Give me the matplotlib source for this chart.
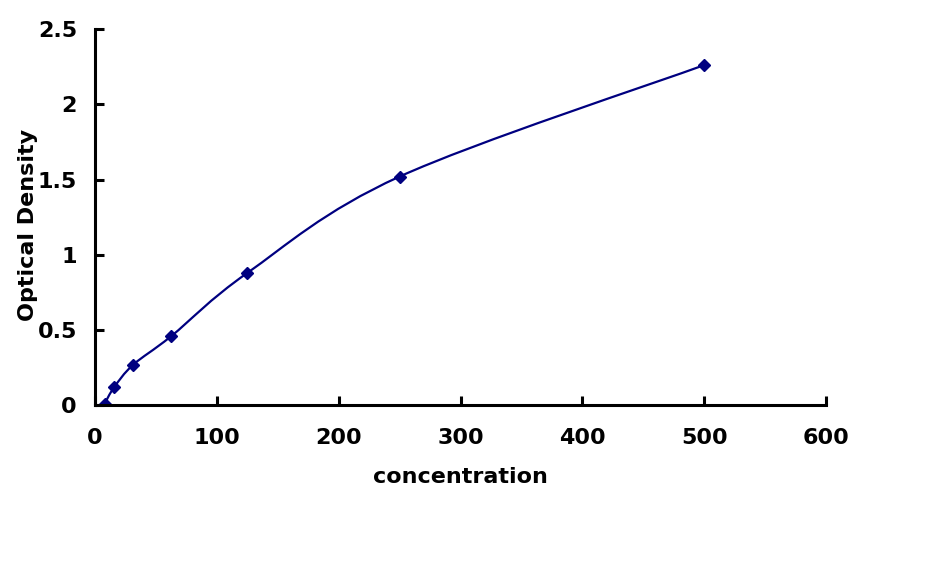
import numpy as np
import matplotlib
matplotlib.use("Agg")
import matplotlib.pyplot as plt
from matplotlib.path import Path
from matplotlib.patches import PathPatch

concentration = [7.8, 15.6, 31.25, 62.5, 125, 250, 500]
optical_density = [0.01, 0.12, 0.27, 0.46, 0.88, 1.52, 2.26]
x_ticks = [0, 100, 200, 300, 400, 500, 600]
y_ticks = [0, 0.5, 1, 1.5, 2, 2.5]
y_tick_labels = ["0", "0.5", "1", "1.5", "2", "2.5"]

plt.rcParams["font.family"] = ["DejaVu Sans"]
plt.rcParams["font.weight"] = "bold"

navy = "#000080"


def smooth_path(xs, ys):
    # Excel-like smoothed line: Catmull-Rom segments as cubic Beziers
    pts = np.column_stack([xs, ys]).astype(float)
    padded = np.vstack([pts[0], pts, pts[-1]])
    verts = [pts[0]]
    codes = [Path.MOVETO]
    for i in range(1, len(padded) - 2):
        p0, p1, p2, p3 = padded[i - 1], padded[i], padded[i + 1], padded[i + 2]
        c1 = p1 + (p2 - p0) / 6.0
        c2 = p2 - (p3 - p1) / 6.0
        verts += [c1, c2, p2]
        codes += [Path.CURVE4] * 3
    return Path(verts, codes)


fig = plt.figure(figsize=(9.38, 5.66), dpi=100)
ax = fig.add_axes([0.1013, 0.2836, 0.7793, 0.6652])

ax.add_patch(PathPatch(smooth_path(concentration, optical_density),
                       facecolor="none", edgecolor=navy, linewidth=1.6))
ax.plot(concentration, optical_density, linestyle="none", marker="D",
        markersize=6.5, color=navy)

ax.set_xlim(0, 600)
ax.set_ylim(0, 2.5)
ax.set_xticks(x_ticks)
ax.set_yticks(y_ticks)
ax.set_yticklabels(y_tick_labels)

for side in ["top", "right"]:
    ax.spines[side].set_visible(False)
for side in ["left", "bottom"]:
    ax.spines[side].set_linewidth(2.2)

ax.tick_params(axis="both", direction="in", length=6.5, width=2.2,
               labelsize=16)
ax.tick_params(axis="x", pad=16)
ax.tick_params(axis="y", pad=13)

ax.set_xlabel("concentration", fontsize=16, fontweight="bold", labelpad=14)
ax.set_ylabel("Optical Density", fontsize=16, fontweight="bold")
ax.yaxis.set_label_coords(-0.078, 0.48)

fig.savefig("out.png", dpi=100)
